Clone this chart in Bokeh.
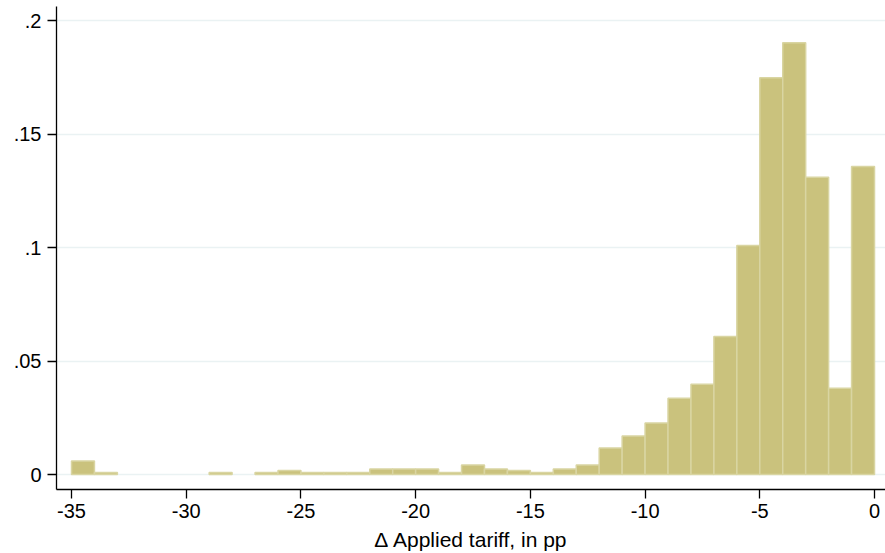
from bokeh.plotting import figure
from bokeh.models import FixedTicker, Range1d, ColumnDataSource
from bokeh.embed import file_html
from bokeh.resources import INLINE

# Histogram bins (width 1, from -35 to 0) and densities
bin_left = [-35, -34, -33, -32, -31, -30, -29, -28, -27, -26, -25, -24, -23, -22,
            -21, -20, -19, -18, -17, -16, -15, -14, -13, -12, -11, -10, -9, -8,
            -7, -6, -5, -4, -3, -2, -1]
bin_right = [-34, -33, -32, -31, -30, -29, -28, -27, -26, -25, -24, -23, -22, -21,
             -20, -19, -18, -17, -16, -15, -14, -13, -12, -11, -10, -9, -8, -7,
             -6, -5, -4, -3, -2, -1, 0]
density = [0.0060, 0.0009, 0.0, 0.0, 0.0, 0.0, 0.0009, 0.0, 0.0009, 0.0018, 0.0009,
           0.0009, 0.0009, 0.0025, 0.0025, 0.0025, 0.0009, 0.0042, 0.0025, 0.0018,
           0.0009, 0.0025, 0.0042, 0.0117, 0.0170, 0.0227, 0.0337, 0.0398, 0.0609,
           0.1010, 0.1750, 0.1904, 0.1311, 0.0381, 0.1358]

x_ticks = [-35, -30, -25, -20, -15, -10, -5, 0]
x_tick_labels = ["-35", "-30", "-25", "-20", "-15", "-10", "-5", "0"]
y_ticks = [0, 0.05, 0.1, 0.15, 0.2]
y_tick_labels = ["0", ".05", ".1", ".15", ".2"]
x_label = "\u0394 Applied tariff, in pp"

keep = [i for i, d in enumerate(density) if d > 0]
src = ColumnDataSource(dict(
    left=[bin_left[i] for i in keep],
    right=[bin_right[i] for i in keep],
    top=[density[i] for i in keep],
    bottom=[0.0 for i in keep],
))

p = figure(width=885, height=553, output_backend="svg", toolbar_location=None,
           x_range=Range1d(-35.654, 0.479), y_range=Range1d(-0.006586, 0.20637),
           min_border_left=56, min_border_right=0, min_border_top=6, min_border_bottom=62)

p.quad(left="left", right="right", top="top", bottom="bottom", source=src,
       fill_color="#CAC27D", line_color="#D9D5A2", line_width=1.5)

p.outline_line_color = None
p.background_fill_color = "white"
p.border_fill_color = "white"

p.xgrid.grid_line_color = None
p.ygrid.grid_line_color = "#EAF2F3"
p.ygrid.grid_line_width = 1.3

FONT = "Liberation Sans"
p.xaxis.ticker = FixedTicker(ticks=x_ticks)
p.yaxis.ticker = FixedTicker(ticks=y_ticks)
p.xaxis.major_label_overrides = {t: l for t, l in zip(x_ticks, x_tick_labels)}
p.yaxis.major_label_overrides = {t: l for t, l in zip(y_ticks, y_tick_labels)}
p.xaxis.axis_label = x_label

for ax in (p.xaxis, p.yaxis):
    ax.axis_line_color = "black"
    ax.axis_line_width = 1.3
    ax.major_tick_line_color = "black"
    ax.major_tick_line_width = 1.3
    ax.major_tick_in = 0
    ax.major_tick_out = 9
    ax.minor_tick_line_color = None
    ax.major_label_text_font = FONT
    ax.major_label_text_font_size = "20px"
    ax.major_label_text_color = "black"

p.xaxis.major_label_standoff = 5
p.yaxis.major_label_standoff = 6
p.yaxis.major_label_orientation = "horizontal"
p.xaxis.axis_label_text_font = FONT
p.xaxis.axis_label_text_font_size = "21px"
p.xaxis.axis_label_text_font_style = "normal"
p.xaxis.axis_label_text_color = "black"
p.xaxis.axis_label_standoff = 7

open("out.html", "w").write(file_html(p, INLINE))
